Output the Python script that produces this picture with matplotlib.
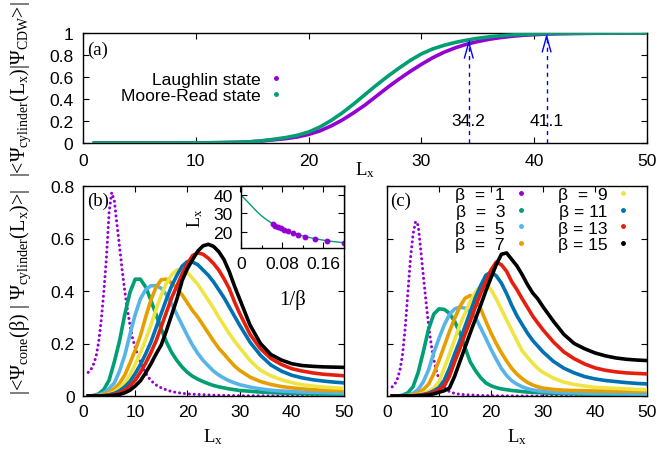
import numpy as np
import matplotlib
matplotlib.use("Agg")
import matplotlib.pyplot as plt
from matplotlib.lines import Line2D

plt.rcParams['font.family'] = ['Liberation Sans', 'DejaVu Sans']
plt.rcParams['font.size'] = 12.6
plt.rcParams['mathtext.fontset'] = 'custom'
plt.rcParams['mathtext.rm'] = 'Liberation Serif'
plt.rcParams['mathtext.it'] = 'Liberation Serif:italic'
plt.rcParams['mathtext.bf'] = 'Liberation Serif:bold'

# ---------------- data ----------------
# panel (a)
lx_a = [1, 5, 10, 12, 14, 15, 16, 17, 18, 19, 20, 21, 22, 23, 24, 25, 26, 27, 28, 29,
        30, 31, 32, 33, 34, 35, 36, 37, 38, 39, 40, 41, 42, 44, 46, 48, 50]
laughlin = [0, 0, 0.001, 0.003, 0.007, 0.012, 0.02, 0.03, 0.04, 0.055, 0.078, 0.11, 0.155,
            0.21, 0.275, 0.345, 0.425, 0.505, 0.58, 0.65, 0.715, 0.775, 0.825, 0.865, 0.898,
            0.922, 0.943, 0.958, 0.97, 0.979, 0.985, 0.99, 0.993, 0.996, 0.998, 0.999, 1.0]
moore_read = [0, 0, 0.001, 0.003, 0.007, 0.012, 0.022, 0.035, 0.05, 0.07, 0.1, 0.145, 0.205,
              0.275, 0.355, 0.44, 0.525, 0.605, 0.68, 0.75, 0.81, 0.855, 0.888, 0.914, 0.935,
              0.952, 0.965, 0.975, 0.982, 0.987, 0.991, 0.994, 0.996, 0.998, 0.999, 1.0, 1.0]
a_labels = ['Laughlin state', 'Moore-Read state']
arrow_lx = [34.2, 41.1]
arrow_text = ['34.2', '41.1']

# panels (b), (c)
betas = [1, 3, 5, 7, 9, 11, 13, 15]
lx_p = [1, 1.5, 2, 2.5, 3, 3.5, 4, 4.5, 5, 5.5, 6, 6.5, 7, 7.5, 8, 8.5, 9, 9.5, 10, 10.5,
        11, 11.5, 12, 12.5, 13, 13.5, 14, 15, 16, 17, 18, 20, 25, 30, 40, 50]
b_beta1 = [0.09, 0.1, 0.12, 0.15, 0.205, 0.29, 0.4, 0.53, 0.7, 0.775, 0.745, 0.655, 0.57,
           0.48, 0.4, 0.33, 0.27, 0.22, 0.185, 0.155, 0.13, 0.107, 0.087, 0.072, 0.06, 0.05,
           0.042, 0.031, 0.023, 0.017, 0.013, 0.008, 0.003, 0.001, 0.0, 0.0]
c_beta1 = [0.035, 0.045, 0.065, 0.1, 0.16, 0.26, 0.39, 0.52, 0.615, 0.665, 0.65, 0.555, 0.455,
           0.36, 0.27, 0.195, 0.14, 0.095, 0.065, 0.045, 0.032, 0.023, 0.017, 0.013, 0.01,
           0.008, 0.007, 0.005, 0.004, 0.003, 0.002, 0.001, 0.0, 0.0, 0.0, 0.0]

lx_bc = [1, 2, 3, 4, 5, 6, 7, 8, 9, 10, 11, 12, 13, 14, 15, 16, 17, 18, 19, 20,
         21, 22, 23, 24, 25, 26, 27, 28, 29, 30, 32, 34, 36, 38, 40, 42, 44, 46, 48, 50]
b_beta3 = [0.0, 0.002, 0.008, 0.025, 0.06, 0.13, 0.21, 0.31, 0.395, 0.445, 0.445, 0.415, 0.365,
           0.31, 0.255, 0.205, 0.165, 0.135, 0.11, 0.09, 0.075, 0.064, 0.055, 0.047, 0.04,
           0.035, 0.031, 0.027, 0.024, 0.021, 0.018, 0.015, 0.013, 0.011, 0.01, 0.009, 0.008,
           0.007, 0.006, 0.005]
b_beta5 = [0, 0.001, 0.004, 0.012, 0.028, 0.05, 0.095, 0.155, 0.235, 0.31, 0.37, 0.405, 0.42,
           0.42, 0.41, 0.385, 0.35, 0.31, 0.27, 0.23, 0.193, 0.162, 0.136, 0.115, 0.095, 0.08,
           0.068, 0.058, 0.05, 0.043, 0.034, 0.027, 0.022, 0.019, 0.017, 0.015, 0.014, 0.013,
           0.012, 0.011]
b_beta7 = [0, 0, 0.002, 0.006, 0.014, 0.028, 0.048, 0.08, 0.125, 0.175, 0.23, 0.3, 0.365, 0.415,
           0.443, 0.445, 0.43, 0.41, 0.385, 0.355, 0.325, 0.3, 0.27, 0.24, 0.21, 0.182, 0.16,
           0.137, 0.115, 0.098, 0.072, 0.055, 0.044, 0.036, 0.031, 0.027, 0.024, 0.022, 0.021,
           0.02]
b_beta9 = [0, 0, 0.001, 0.003, 0.007, 0.015, 0.03, 0.05, 0.08, 0.12, 0.165, 0.215, 0.27, 0.33,
           0.385, 0.43, 0.463, 0.48, 0.482, 0.47, 0.448, 0.425, 0.395, 0.365, 0.335, 0.3, 0.27,
           0.238, 0.21, 0.185, 0.135, 0.098, 0.077, 0.062, 0.051, 0.043, 0.038, 0.034, 0.031,
           0.029]
b_beta11 = [0, 0, 0, 0.002, 0.005, 0.01, 0.02, 0.035, 0.055, 0.085, 0.12, 0.16, 0.205, 0.26,
            0.315, 0.37, 0.42, 0.46, 0.495, 0.512, 0.51, 0.5, 0.48, 0.46, 0.435, 0.405, 0.375,
            0.34, 0.305, 0.27, 0.205, 0.155, 0.118, 0.095, 0.079, 0.069, 0.062, 0.057, 0.053,
            0.05]
b_beta13 = [0, 0, 0, 0.001, 0.003, 0.006, 0.012, 0.022, 0.038, 0.06, 0.09, 0.125, 0.165, 0.21,
            0.265, 0.32, 0.375, 0.42, 0.465, 0.505, 0.535, 0.545, 0.54, 0.525, 0.505, 0.48,
            0.447, 0.41, 0.36, 0.315, 0.235, 0.18, 0.143, 0.12, 0.104, 0.095, 0.088, 0.083,
            0.08, 0.077]
b_beta15 = [0, 0, 0, 0, 0.001, 0.003, 0.006, 0.012, 0.022, 0.038, 0.058, 0.088, 0.122, 0.16,
            0.195, 0.25, 0.31, 0.37, 0.44, 0.485, 0.52, 0.552, 0.572, 0.578, 0.57, 0.55, 0.52,
            0.475, 0.42, 0.37, 0.27, 0.2, 0.158, 0.137, 0.123, 0.116, 0.113, 0.111, 0.11, 0.109]

c_beta3 = [0, 0, 0.003, 0.012, 0.035, 0.09, 0.17, 0.255, 0.312, 0.332, 0.33, 0.315, 0.285,
           0.24, 0.185, 0.13, 0.097, 0.07, 0.05, 0.039, 0.032, 0.027, 0.024, 0.021, 0.019,
           0.017, 0.015, 0.014, 0.013, 0.012, 0.01, 0.009, 0.008, 0.007, 0.007, 0.006, 0.006,
           0.005, 0.005, 0.005]
c_beta5 = [0, 0, 0, 0.003, 0.01, 0.025, 0.055, 0.1, 0.165, 0.22, 0.27, 0.31, 0.332, 0.338,
           0.335, 0.32, 0.3, 0.26, 0.22, 0.178, 0.14, 0.105, 0.078, 0.058, 0.045, 0.035, 0.028,
           0.023, 0.02, 0.018, 0.015, 0.013, 0.012, 0.011, 0.01, 0.01, 0.009, 0.009, 0.008,
           0.008]
c_beta7 = [0, 0, 0, 0.001, 0.005, 0.012, 0.025, 0.045, 0.085, 0.135, 0.19, 0.245, 0.295, 0.34,
           0.372, 0.383, 0.368, 0.333, 0.285, 0.24, 0.2, 0.165, 0.133, 0.105, 0.083, 0.066,
           0.052, 0.042, 0.035, 0.03, 0.025, 0.022, 0.021, 0.02, 0.019, 0.019, 0.018, 0.018,
           0.018, 0.018]
c_beta9 = [0, 0, 0, 0, 0.002, 0.005, 0.01, 0.018, 0.03, 0.055, 0.105, 0.16, 0.215, 0.27, 0.315,
           0.36, 0.395, 0.42, 0.428, 0.405, 0.37, 0.33, 0.29, 0.25, 0.21, 0.172, 0.148, 0.125,
           0.105, 0.09, 0.068, 0.053, 0.044, 0.038, 0.033, 0.031, 0.029, 0.027, 0.025, 0.024]
c_beta11 = [0, 0, 0, 0, 0.001, 0.003, 0.006, 0.011, 0.02, 0.032, 0.06, 0.105, 0.16, 0.21,
            0.265, 0.32, 0.375, 0.42, 0.46, 0.472, 0.458, 0.43, 0.39, 0.345, 0.305, 0.272,
            0.24, 0.212, 0.19, 0.168, 0.132, 0.106, 0.088, 0.074, 0.065, 0.059, 0.055, 0.051,
            0.048, 0.046]
c_beta13 = [0, 0, 0, 0, 0.001, 0.002, 0.004, 0.008, 0.014, 0.025, 0.038, 0.075, 0.13, 0.18,
            0.235, 0.285, 0.34, 0.39, 0.435, 0.48, 0.51, 0.5, 0.475, 0.435, 0.405, 0.37, 0.338,
            0.305, 0.278, 0.252, 0.206, 0.168, 0.142, 0.122, 0.107, 0.098, 0.092, 0.088, 0.086,
            0.084]
c_beta15 = [0, 0, 0, 0, 0, 0.001, 0.002, 0.004, 0.008, 0.014, 0.02, 0.03, 0.075, 0.13, 0.185,
            0.24, 0.293, 0.345, 0.4, 0.45, 0.5, 0.54, 0.545, 0.52, 0.495, 0.462, 0.425, 0.393,
            0.37, 0.34, 0.285, 0.235, 0.2, 0.18, 0.164, 0.153, 0.145, 0.14, 0.137, 0.135]

# inset of (b)
inset_beta = [16, 15, 14, 13, 12, 11, 10, 9, 8, 7, 6, 5]
inset_lx = [23.9, 23.2, 22.5, 21.7, 20.9, 20.1, 19.2, 18.2, 17.2, 16.2, 15.1, 13.9]
fit_inv_beta = [0, 0.01, 0.02, 0.03, 0.04, 0.05, 0.06, 0.07, 0.08, 0.1, 0.12, 0.14, 0.16, 0.18, 0.2]
fit_lx = [40, 37.2, 34.2, 31.2, 28.6, 26.4, 24.6, 23.0, 21.6, 19.3, 17.6, 16.3, 15.3, 14.5, 13.9]

# ---------------- style ----------------
COLORS = ['#9400D3', '#009E73', '#56B4E9', '#E69F00', '#F0E442', '#0072B2', '#E51E10', '#000000']
SERIF = ['Liberation Serif', 'DejaVu Serif']
FS = 12.6
W, H = 659, 456


def px_axes(l, t, r, b):
    return [l / W, 1 - b / H, (r - l) / W, (b - t) / H]


def style(ax, pad=6, labelsize=FS):
    ax.tick_params(which='both', direction='in', top=True, right=True, width=0.8, pad=pad,
                   labelsize=labelsize)
    ax.tick_params(which='major', length=4.5)
    ax.tick_params(which='minor', length=2.5)
    for s in ax.spines.values():
        s.set_linewidth(1.0)


fig = plt.figure(figsize=(6.59, 4.56), dpi=100)
ax_a = fig.add_axes(px_axes(83, 34, 647, 144))
ax_b = fig.add_axes(px_axes(83, 187, 344, 397))
ax_c = fig.add_axes(px_axes(387, 187, 647, 397))
ax_in = fig.add_axes(px_axes(241, 187, 344, 249))

# ---- (a) ----
ax_a.plot(lx_a, laughlin, color=COLORS[0], lw=2.6, zorder=3)
ax_a.plot(lx_a, moore_read, color=COLORS[1], lw=2.6, zorder=4)
ax_a.set_xlim(0, 50)
ax_a.set_ylim(0, 1)
ax_a.set_xticks([0, 10, 20, 30, 40, 50])
ax_a.set_yticks([0, 0.2, 0.4, 0.6, 0.8, 1.0])
ax_a.set_yticklabels(['0', '0.2', '0.4', '0.6', '0.8', '1'])
style(ax_a, pad=7)
ax_a.set_xlabel('L$_{\\mathrm{x}}$', family=SERIF, fontsize=13.5)
ax_a.xaxis.set_label_coords(0.5, -0.15)
ax_a.text(0.008, 0.93, '(a)', transform=ax_a.transAxes, family=SERIF, fontsize=13.5,
          ha='left', va='top')
handles_a = [Line2D([], [], ls='none', marker='.', ms=5, color=COLORS[i]) for i in range(2)]
ax_a.legend(handles_a, a_labels, loc='center right', bbox_to_anchor=(0.355, 0.505),
            markerfirst=False, frameon=False, handlelength=0.8, handletextpad=0.5,
            labelspacing=0.08, borderpad=0, borderaxespad=0, fontsize=FS)
curve_top = np.maximum(np.interp(arrow_lx, lx_a, laughlin), np.interp(arrow_lx, lx_a, moore_read))
for xv, yt, txt in zip(arrow_lx, curve_top, arrow_text):
    ax_a.plot([xv, xv], [0, yt], color='blue', ls=(0, (3, 3)), lw=1.0, zorder=5)
    ax_a.annotate('', xy=(xv, yt), xytext=(xv, yt - 0.05),
                  arrowprops=dict(arrowstyle='->,head_length=0.9,head_width=0.25',
                                  color='blue', lw=1.0, shrinkA=0, shrinkB=0), zorder=5)
    ax_a.text(xv, 0.2, txt, ha='center', va='center', fontsize=FS, zorder=6)

fig.text(21 / W, 1 - 89 / H, '|<Ψ$_{\\mathrm{cylinder}}$(L$_{\\mathrm{x}}$)|Ψ$_{\\mathrm{CDW}}$>|',
         rotation=90, ha='center', va='center', family=SERIF, fontsize=14.2)

# ---- (b) and (c) ----
b_curves = [b_beta3, b_beta5, b_beta7, b_beta9, b_beta11, b_beta13, b_beta15]
c_curves = [c_beta3, c_beta5, c_beta7, c_beta9, c_beta11, c_beta13, c_beta15]
for ax, p_curve, curves in [(ax_b, b_beta1, b_curves), (ax_c, c_beta1, c_curves)]:
    ax.plot(lx_p, p_curve, color=COLORS[0], lw=2.2, ls=(0, (0.01, 1.6)),
            dash_capstyle='round', zorder=2)
    for i, yv in enumerate(curves):
        ax.plot(lx_bc, yv, color=COLORS[i + 1], lw=2.6, zorder=3 + i)
    ax.set_xlim(0, 50)
    ax.set_ylim(0, 0.8)
    ax.set_xticks([0, 10, 20, 30, 40, 50])
    ax.set_yticks([0, 0.2, 0.4, 0.6, 0.8])
    style(ax, pad=6)
    ax.set_xlabel('L$_{\\mathrm{x}}$', family=SERIF, fontsize=13.5, labelpad=5)

ax_b.set_yticklabels(['0', '0.2', '0.4', '0.6', '0.8'])
ax_c.tick_params(labelleft=False)
ax_b.text(0.015, 0.975, '(b)', transform=ax_b.transAxes, family=SERIF, fontsize=13.5,
          ha='left', va='top')
ax_c.text(0.012, 0.975, '(c)', transform=ax_c.transAxes, family=SERIF, fontsize=13.5,
          ha='left', va='top')

beta_labels = ['β  =  1', 'β  =  3', 'β  =  5', 'β  =  7', 'β  =  9', 'β = 11', 'β = 13', 'β = 15']
handles_c = [Line2D([], [], ls='none', marker='.', ms=5, color=c) for c in COLORS]
ax_c.legend(handles_c, beta_labels, ncol=2, loc='upper right', bbox_to_anchor=(0.935, 0.995),
            markerfirst=False, frameon=False, handlelength=0.8, handletextpad=0.5,
            labelspacing=0.08, columnspacing=1.7, borderpad=0, borderaxespad=0, fontsize=FS)

fig.text(21 / W, 1 - 292 / H,
         '|<Ψ$_{\\mathrm{cone}}$(β) | Ψ$_{\\mathrm{cylinder}}$(L$_{\\mathrm{x}}$)>|',
         rotation=90, ha='center', va='center', family=SERIF, fontsize=14.5)

# ---- inset ----
ax_in.set_facecolor('white')
ax_in.set_zorder(10)
ax_in.plot(fit_inv_beta, fit_lx, color=COLORS[1], lw=1.0)
ax_in.plot(1.0 / np.array(inset_beta), inset_lx, ls='none', marker='o', ms=3.2,
           color=COLORS[0])
ax_in.set_xlim(0, 0.2)
ax_in.set_ylim(11, 45)
ax_in.set_xticks([0, 0.08, 0.16])
ax_in.set_xticklabels(['0', '0.08', '0.16'])
ax_in.set_xticks([0.04, 0.12], minor=True)
ax_in.set_yticks([20, 30, 40])
style(ax_in, pad=6)
ax_in.set_xlabel('1/β', family=SERIF, fontsize=15, labelpad=13)
ax_in.set_ylabel('L$_{\\mathrm{x}}$', family=SERIF, fontsize=13, labelpad=6)

fig.savefig('out.png', dpi=100)
